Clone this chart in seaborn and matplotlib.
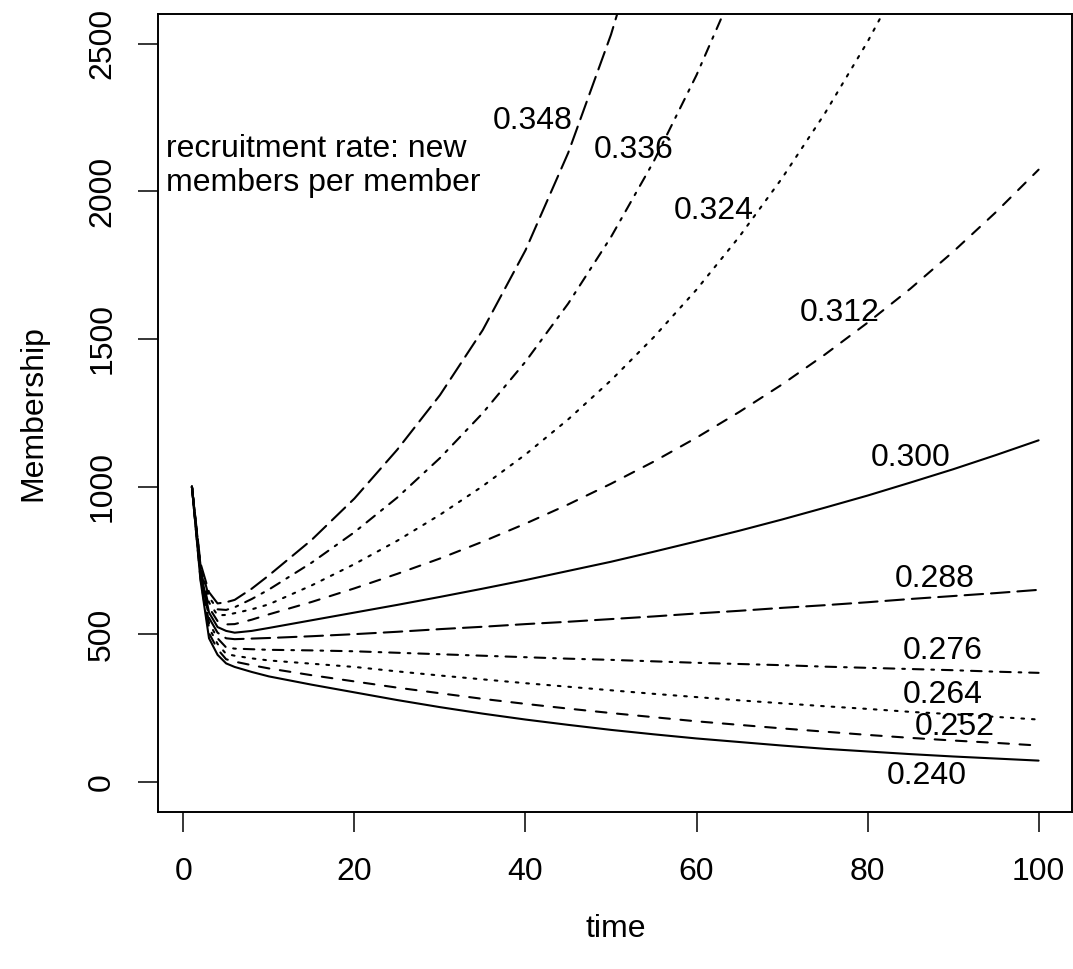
import pandas as pd
import matplotlib
matplotlib.use("Agg")
import matplotlib.pyplot as plt
import seaborn as sns

time_pts = [1, 2, 3, 4, 5, 6, 8, 10, 15, 20, 25, 30, 35, 40, 45, 50,
            55, 60, 65, 70, 75, 80, 85, 90, 95, 100]

# membership for each recruitment rate (curves that leave the top stop early)
m240 = [1000, 684, 487, 431, 402, 390, 373, 358, 330, 304, 278, 254, 232, 212, 194, 177,
        162, 148, 136, 124, 113, 104, 95, 87, 80, 73]
m252 = [1000, 690, 504, 450, 416, 408, 396, 385, 362, 341, 320, 301, 282, 265, 249, 234,
        220, 206, 194, 182, 171, 160, 150, 141, 133, 124]
m264 = [1000, 696, 522, 468, 434, 428, 419, 412, 401, 390, 375, 361, 348, 335, 323, 311,
        299, 288, 277, 267, 257, 248, 238, 230, 221, 212]
m276 = [1000, 703, 539, 487, 456, 452, 450, 448, 446, 443, 438, 433, 428, 423, 418, 414,
        409, 404, 400, 396, 391, 387, 383, 379, 374, 370]
m288 = [1000, 709, 556, 506, 487, 484, 486, 488, 494, 501, 509, 518, 526, 535, 543, 552,
        561, 571, 580, 590, 599, 609, 620, 630, 640, 651]
m300 = [1000, 716, 574, 525, 512, 506, 512, 522, 548, 574, 600, 627, 655, 684, 715, 746,
        780, 815, 851, 889, 929, 970, 1014, 1059, 1107, 1157]
m312 = [1000, 722, 591, 545, 534, 535, 550, 568, 610, 656, 705, 757, 814, 875, 940, 1010,
        1085, 1166, 1253, 1346, 1447, 1555, 1670, 1795, 1929, 2073]
m324 = [1000, 728, 608, 565, 566, 572, 585, 602, 666, 738, 817, 905, 1002, 1109, 1228, 1360,
        1506, 1667, 1846, 2044, 2263, 2506, 2775]
m336 = [1000, 735, 626, 585, 583, 592, 620, 652, 743, 846, 963, 1097, 1249, 1423, 1620, 1845,
        2101, 2393, 2725]
m348 = [1000, 741, 643, 605, 609, 617, 655, 700, 820, 960, 1125, 1310, 1530, 1800, 2130, 2530,
        3010]

rates = ["0.240", "0.252", "0.264", "0.276", "0.288", "0.300", "0.312", "0.324", "0.336", "0.348"]
series = [m240, m252, m264, m276, m288, m300, m312, m324, m336, m348]

# where the rate labels sit (time, membership)
label_t = [86.9, 90.2, 88.8, 88.8, 87.8, 85.0, 76.7, 62.0, 52.6, 40.9]
label_v = [21, 187, 295, 444, 687, 1097, 1587, 1932, 2140, 2239]

rows = []
for r, vals in zip(rates, series):
    for t, v in zip(time_pts, vals):
        rows.append({"time": t, "members": v, "rate": r})
df = pd.DataFrame(rows)

sns.set_style("white")
plt.rcParams["font.family"] = ["Liberation Sans", "DejaVu Sans"]
plt.rcParams["text.color"] = "black"
plt.rcParams["axes.labelcolor"] = "black"
plt.rcParams["xtick.color"] = "black"
plt.rcParams["ytick.color"] = "black"

# R-like line types, cycling solid / dashed / dotted / dotdash / longdash
lty = ["-", (0, (5.1, 5.1)), (0, (1.27, 3.8)), (0, (1.27, 3.8, 5.1, 3.8)), (0, (8.9, 3.8))]

fig = plt.figure(figsize=(10.73, 9.69), dpi=100)
ax = fig.add_axes([0.1473, 0.1623, 0.8522, 0.8233])

for i, r in enumerate(rates):
    sub = df[df["rate"] == r]
    sns.lineplot(data=sub, x="time", y="members", ax=ax, color="black", lw=1.5,
                 linestyle=lty[i % 5], estimator=None, sort=False,
                 dash_capstyle="round", solid_capstyle="round")
    ax.text(label_t[i], label_v[i], r, ha="center", va="center", fontsize=23)

ax.text(-2.02, 2085, "recruitment rate: new\nmembers per member", ha="left", va="center",
        fontsize=23, linespacing=1.2)

ax.set_xlim(-2.96, 103.96)
ax.set_ylim(-100, 2600)
ax.set_xticks([0, 20, 40, 60, 80, 100])
ax.set_yticks([0, 500, 1000, 1500, 2000, 2500])
ax.tick_params(axis="both", direction="out", length=14.4, width=1.1, color="black",
               labelsize=23, bottom=True, left=True)
ax.tick_params(axis="x", pad=18)
ax.tick_params(axis="y", pad=15, labelrotation=90)
for lab in ax.get_yticklabels():
    lab.set_va("center")

for s in ax.spines.values():
    s.set_visible(True)
    s.set_color("black")
    s.set_linewidth(1.4)

ax.set_xlabel("time", fontsize=23)
ax.set_ylabel("Membership", fontsize=23)
ax.xaxis.set_label_coords(0.5, -0.128)
ax.yaxis.set_label_coords(-0.12, 0.5)

fig.savefig("out.png", dpi=100)
